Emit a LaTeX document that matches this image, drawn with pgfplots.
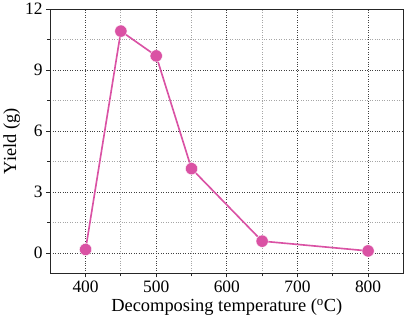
\documentclass[border=0pt]{standalone}
\usepackage{pgfplots}
\pgfplotsset{compat=1.18}
\usepackage{fontspec}
\setmainfont{Liberation Serif}
\definecolor{pk}{RGB}{218,82,164}
\begin{document}
\begin{tikzpicture}
\begin{axis}[
  scale only axis,
  width=345pt, height=258pt,
  xmin=350, xmax=850, ymin=-1, ymax=12,
  xtick={400,500,...,800}, ytick={0,3,...,12},
  minor tick num=1,
  tick align=outside,
  xtick pos=bottom, ytick pos=left,
  major tick length=4pt, minor tick length=3pt,
  axis line style={line width=1.2pt, black!85},
  tick style={line width=0.8pt, black!85},
  grid=both,
  major grid style={dotted, line width=0.8pt, black!75},
  minor grid style={dotted, line width=0.8pt, black!35},
  /pgf/number format/assume math mode=true,
  ticklabel style={font=\fontsize{17}{19}\selectfont},
  label style={font=\fontsize{18}{20}\selectfont},
  xlabel={Decomposing temperature ($^{\mathrm{o}}$C)},
  ylabel={Yield (g)},
  xlabel style={yshift=1pt},
  ylabel style={yshift=-2pt},
]
\addplot[color=pk, line width=1.6pt, mark=*, mark size=6pt, mark options={fill=pk, draw=white, line width=0.4pt}]
coordinates {(400,0.17) (450,10.92) (500,9.7) (550,4.15) (650,0.58) (800,0.1)};
\end{axis}
\end{tikzpicture}
\end{document}
